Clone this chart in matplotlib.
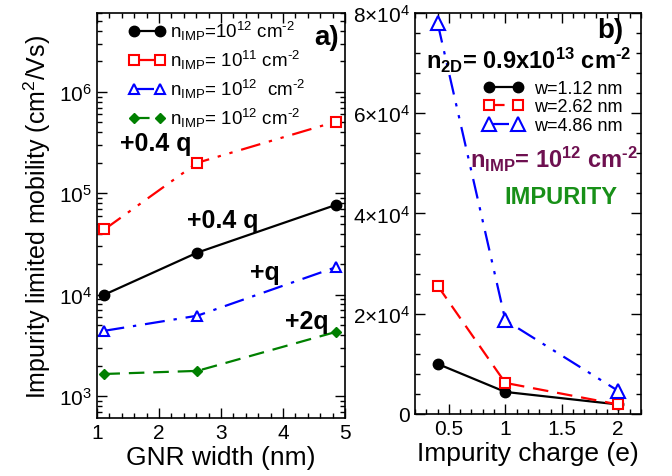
import matplotlib
matplotlib.use("Agg")
import matplotlib.pyplot as plt
from matplotlib.ticker import FuncFormatter, LogLocator, MultipleLocator, NullFormatter

plt.rcParams["font.family"] = ["Liberation Sans", "DejaVu Sans"]
plt.rcParams["mathtext.fontset"] = "custom"
plt.rcParams["mathtext.rm"] = "Liberation Sans"
plt.rcParams["mathtext.it"] = "Liberation Sans:italic"
plt.rcParams["mathtext.bf"] = "Liberation Sans:bold"

## Data.
# Panel a): mobility vs GNR width.
widths = [1.12, 2.62, 4.86]
mob_04q_1e12 = [1.0e4, 2.6e4, 7.7e4]
mob_04q_1e11 = [4.4e4, 2.0e5, 5.1e5]
mob_1q_1e12 = [4.4e3, 6.2e3, 1.87e4]
mob_2q_1e12 = [1.65e3, 1.77e3, 4.3e3]

# Panel b): mobility vs impurity charge.
charges = [0.4, 1.0, 2.0]
mob_w112 = [1.0e4, 4.4e3, 1.9e3]
mob_w262 = [2.56e4, 6.2e3, 1.9e3]
mob_w486 = [7.8e4, 1.87e4, 4.6e3]

legend_a = [
    r"n$_{\rm IMP}$=10$^{12}$ cm$^{\text{-2}}$",
    r"n$_{\rm IMP}$= 10$^{11}$ cm$^{\text{-2}}$",
    r"n$_{\rm IMP}$= 10$^{12}$  cm$^{\text{-2}}$",
    r"n$_{\rm IMP}$= 10$^{12}$ cm$^{\text{-2}}$",
]
legend_b = ["w=1.12 nm", "w=2.62 nm", "w=4.86 nm"]

dashdotdot = (0, (9, 4, 1.5, 4, 1.5, 4))
dashdot = (0, (9, 4, 1.5, 4))
dashed = (0, (7, 4))

fig = plt.figure(figsize=(6.72, 4.77), dpi=100)
ax1 = fig.add_axes([0.1443, 0.1216, 0.369, 0.849])
ax2 = fig.add_axes([0.6176, 0.130, 0.336, 0.8407])


def style_axes(ax):
    ax.tick_params(which="both", direction="in", top=True, right=True,
                   labelsize=15, width=1.0)
    ax.tick_params(which="major", length=7)
    ax.tick_params(which="minor", length=3.5)
    for s in ax.spines.values():
        s.set_linewidth(1.2)


## First chart.
ax1.plot(widths, mob_04q_1e12, color="black", lw=1.6, ls="-", marker="o",
         ms=7.5, label=legend_a[0])
ax1.plot(widths, mob_04q_1e11, color="red", lw=1.6, ls=dashdotdot, marker="s",
         ms=6.5, mfc="white", mew=1.5, label=legend_a[1])
ax1.plot(widths, mob_1q_1e12, color="blue", lw=1.6, ls=dashdot, marker="^",
         ms=7.5, mfc="white", mew=1.5, label=legend_a[2])
ax1.plot(widths, mob_2q_1e12, color="green", lw=1.6, ls=dashed, marker="D",
         ms=5.5, label=legend_a[3])

ax1.set_yscale("log")
ax1.set_xlim(1, 5)
ax1.set_ylim(607, 6.0e6)
ax1.xaxis.set_major_locator(MultipleLocator(1))
ax1.xaxis.set_minor_locator(MultipleLocator(0.2))
ax1.yaxis.set_major_locator(LogLocator(base=10, numticks=10))
ax1.yaxis.set_minor_locator(LogLocator(base=10, subs=range(2, 10), numticks=10))
ax1.yaxis.set_minor_formatter(NullFormatter())
style_axes(ax1)
ax1.set_xlabel("GNR width (nm)", fontsize=19, labelpad=2)
ax1.set_ylabel(r"Impurity limited mobility (cm$^2$/Vs)", fontsize=18, labelpad=4)

ax1.legend(loc="upper left", bbox_to_anchor=(0.125, 0.985), frameon=False,
           fontsize=13.5, numpoints=2, handlelength=2.0, handletextpad=0.25,
           labelspacing=0.32, borderpad=0, borderaxespad=0)

ax1.text(4.5, 3.5e6, "a)", fontsize=20, fontweight="bold", va="center")
ax1.text(1.37, 3.1e5, "+0.4 q", fontsize=18, fontweight="bold", va="center")
ax1.text(2.45, 5.4e4, "+0.4 q", fontsize=18, fontweight="bold", va="center")
ax1.text(3.47, 1.67e4, "+q", fontsize=18, fontweight="bold", va="center")
ax1.text(4.03, 5.5e3, "+2q", fontsize=18, fontweight="bold", va="center")

## Second chart.
ax2.plot(charges, mob_w112, color="black", lw=1.6, ls="-", marker="o",
         ms=7.5, label=legend_b[0])
ax2.plot(charges, mob_w262, color="red", lw=1.6, ls=dashed, marker="s",
         ms=7, mfc="white", mew=1.5, label=legend_b[1])
ax2.plot(charges, mob_w486, color="blue", lw=1.6, ls=dashdotdot, marker="^",
         ms=10, mfc="white", mew=1.5, label=legend_b[2])

ax2.set_xlim(0.2, 2.2)
ax2.set_ylim(0, 8e4)
ax2.xaxis.set_major_locator(MultipleLocator(0.5))
ax2.xaxis.set_minor_locator(MultipleLocator(0.1))
ax2.yaxis.set_major_locator(MultipleLocator(2e4))
ax2.yaxis.set_minor_locator(MultipleLocator(4e3))
ax2.yaxis.set_major_formatter(FuncFormatter(
    lambda v, pos: "0" if v == 0 else r"$%d{\times}10^4$" % round(v / 1e4)))
ax2.xaxis.set_major_formatter(FuncFormatter(lambda v, pos: "%g" % v))
style_axes(ax2)
ax2.set_xlabel("Impurity charge (e)", fontsize=19, labelpad=2)

ax2.legend(loc="upper left", bbox_to_anchor=(0.305, 0.833), frameon=False,
           fontsize=13, numpoints=2, handlelength=2.2, handletextpad=0.6,
           labelspacing=0.08, borderpad=0, borderaxespad=0)

ax2.text(1.81, 7.66e4, "b)", fontsize=20, fontweight="bold", va="center")
ax2.text(0.3, 6.9e4, "$\\mathbf{n_{2D}}$= 0.9x10$^{\\mathbf{13}}$ cm$^{\\mathbf{\u20102}}$",
         fontsize=17, fontweight="bold", va="baseline")
ax2.text(0.69, 5.1e4, "$\\mathbf{n_{IMP}}$= 10$^{\\mathbf{12}}$ cm$^{\\mathbf{\u20102}}$",
         fontsize=17, fontweight="bold", color="#6e1050", va="center")
ax2.text(0.99, 4.34e4, "IMPURITY", fontsize=17, fontweight="bold",
         color="#189018", va="center")

fig.savefig("out.png", dpi=100)
